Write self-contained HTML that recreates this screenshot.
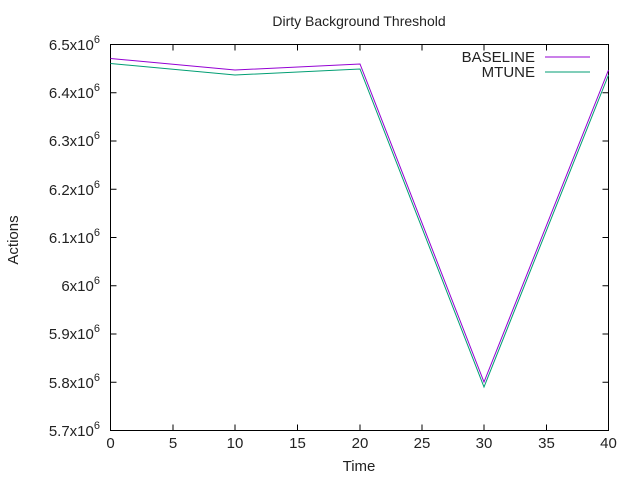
<!DOCTYPE html>
<html><head><style>body{margin:0;background:#fff}svg{display:block}</style></head>
<body>
<svg width="640" height="480" xmlns="http://www.w3.org/2000/svg" font-family="Liberation Sans, DejaVu Sans, sans-serif" font-size="14" fill="#222">
<rect width="640" height="480" fill="#fff"/>
<text x="359" y="26" text-anchor="middle" font-size="14">Dirty Background Threshold</text>
<g stroke="#000" stroke-width="1" fill="none">
<rect x="110.5" y="44.5" width="498" height="386"/>
<path d="M110.5 92.7h6M110.5 141h6M110.5 189.2h6M110.5 237.5h6M110.5 285.7h6M110.5 334h6M110.5 382.2h6
M608.5 92.7h-6M608.5 141h-6M608.5 189.2h-6M608.5 237.5h-6M608.5 285.7h-6M608.5 334h-6M608.5 382.2h-6
M173 430.5v-6M235 430.5v-6M297.5 430.5v-6M360 430.5v-6M422 430.5v-6M484 430.5v-6M546.5 430.5v-6
M173 44.5v6M235 44.5v6M297.5 44.5v6M360 44.5v6M422 44.5v6M484 44.5v6M546.5 44.5v6"/>
</g>
<g text-anchor="end" font-size="15">
<text x="100" y="50">6.5x10<tspan font-size="11" dy="-7">6</tspan></text>
<text x="100" y="98">6.4x10<tspan font-size="11" dy="-7">6</tspan></text>
<text x="100" y="146">6.3x10<tspan font-size="11" dy="-7">6</tspan></text>
<text x="100" y="195">6.2x10<tspan font-size="11" dy="-7">6</tspan></text>
<text x="100" y="243">6.1x10<tspan font-size="11" dy="-7">6</tspan></text>
<text x="100" y="291">6x10<tspan font-size="11" dy="-7">6</tspan></text>
<text x="100" y="339">5.9x10<tspan font-size="11" dy="-7">6</tspan></text>
<text x="100" y="388">5.8x10<tspan font-size="11" dy="-7">6</tspan></text>
<text x="100" y="436">5.7x10<tspan font-size="11" dy="-7">6</tspan></text>
</g>
<g text-anchor="middle" font-size="15">
<text x="110.5" y="448">0</text><text x="173" y="448">5</text><text x="235" y="448">10</text>
<text x="297.5" y="448">15</text><text x="360" y="448">20</text><text x="422" y="448">25</text>
<text x="484" y="448">30</text><text x="546.5" y="448">35</text><text x="608.5" y="448">40</text>
</g>
<text x="359" y="471" text-anchor="middle" font-size="15">Time</text>
<text x="18" y="240" text-anchor="middle" font-size="15" transform="rotate(-90 18 240)">Actions</text>
<g text-anchor="end" font-size="15">
<text x="535" y="62">BASELINE</text>
<text x="535" y="77">MTUNE</text>
</g>
<path d="M545 57h45" stroke="#9400d3" stroke-width="1"/>
<path d="M545 72h45" stroke="#009e73" stroke-width="1"/>
<polyline fill="none" stroke="#9400d3" stroke-width="1" points="110.5,58.5 235,70 360,64 484,382 608.5,70"/>
<polyline fill="none" stroke="#009e73" stroke-width="1" points="110.5,63.5 235,75 360,69 484,387 608.5,75"/>
</svg>
</body></html>
